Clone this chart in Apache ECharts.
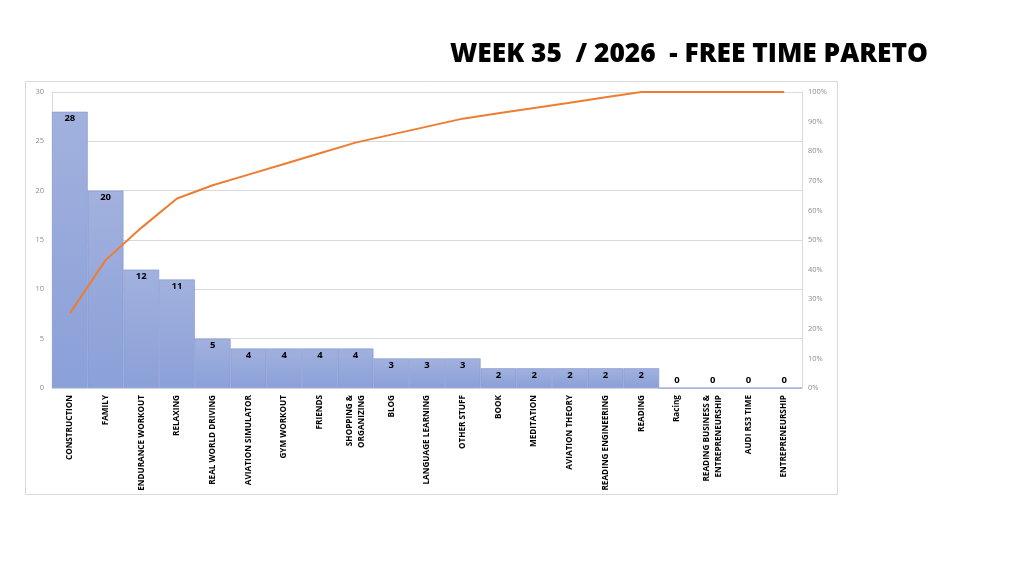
<!DOCTYPE html>
<html>
<head>
<meta charset="utf-8">
<title>Free time pareto</title>
<script src="https://cdn.jsdelivr.net/npm/echarts@6/dist/echarts.min.js"></script>
<style>
  html, body { margin: 0; padding: 0; background: #fff; }
  #main { width: 1023px; height: 572px; }
</style>
</head>
<body>
<div id="main"></div>
<script>
// week data, sorted high to low
var categories = [
    'CONSTRUCTION', 'FAMILY', 'ENDURANCE WORKOUT', 'RELAXING', 'REAL WORLD DRIVING',
    'AVIATION SIMULATOR', 'GYM WORKOUT', 'FRIENDS', 'SHOPPING &\nORGANIZING', 'BLOG',
    'LANGUAGE LEARNING', 'OTHER STUFF', 'BOOK', 'MEDITATION', 'AVIATION THEORY',
    'READING ENGINEERING', 'READING', 'Racing', 'READING BUSINESS &\nENTREPRENEURSHIP', 'AUDI RS3 TIME',
    'ENTREPRENEURSHIP'
];
var hours = [28, 20, 12, 11, 5, 4, 4, 4, 4, 3, 3, 3, 2, 2, 2, 2, 2, 0, 0, 0, 0];
// cumulative share (%)
var cumulative = [25.2, 43.2, 54.1, 64.0, 68.5, 72.1, 75.7, 79.3, 82.9, 85.6, 88.3, 91.0, 92.8, 94.6, 96.4, 98.2, 100, 100, 100, 100, 100];
var leftTicks = [0, 30, 5];     // min, max, step
var rightTicks = [0, 100, 10];

var myChart = echarts.init(document.getElementById('main'));

var barData = [];
for (var i = 0; i < hours.length; i++) {
    barData.push({
        value: hours[i],
        label: { position: hours[i] > 0 ? 'insideTop' : 'top', distance: 2 }
    });
}

var option = {
    animation: false,
    title: {
        text: 'WEEK 35  / 2026  - FREE TIME PARETO',
        right: 90,
        top: 37,
        textStyle: { fontFamily: 'Open Sans', fontWeight: 800, fontSize: 26.3, color: '#000' }
    },
    graphic: [{
        type: 'rect',
        shape: { x: 25.5, y: 81.5, width: 812, height: 413 },
        style: { fill: 'none', stroke: '#d9d9d9', lineWidth: 1 },
        z: -1
    }],
    grid: { left: 52, right: 221, top: 92, bottom: 184 },
    xAxis: {
        type: 'category',
        data: categories,
        axisLine: { lineStyle: { color: '#d9d9d9' } },
        axisTick: { show: false },
        axisLabel: {
            interval: 0,
            rotate: 90,
            margin: 7,
            fontFamily: 'Open Sans',
            fontWeight: 'bold',
            fontSize: 8.2,
            lineHeight: 11.5,
            color: '#000'
        }
    },
    yAxis: [{
        type: 'value',
        min: leftTicks[0],
        max: leftTicks[1],
        interval: leftTicks[2],
        axisLine: { show: true, lineStyle: { color: '#d9d9d9' } },
        axisTick: { show: false },
        axisLabel: { margin: 8, fontFamily: 'Open Sans', fontSize: 7.5, color: '#8c8c8c' },
        splitLine: { lineStyle: { color: '#d9d9d9' } }
    }, {
        type: 'value',
        min: rightTicks[0],
        max: rightTicks[1],
        interval: rightTicks[2],
        axisLine: { show: true, lineStyle: { color: '#d9d9d9' } },
        axisTick: { show: false },
        axisLabel: { margin: 6, formatter: '{value}%', fontFamily: 'Open Sans', fontSize: 7.5, color: '#8c8c8c' },
        splitLine: { show: false }
    }],
    series: [{
        name: 'Hours',
        type: 'bar',
        data: barData,
        barWidth: '100%',
        barCategoryGap: '0%',
        itemStyle: {
            color: new echarts.graphic.LinearGradient(0, 0, 0, 1, [
                { offset: 0, color: '#a2b1de' },
                { offset: 1, color: '#8aa0d8' }
            ]),
            borderColor: '#7f96d2',
            borderWidth: 0.6
        },
        label: {
            show: true,
            fontFamily: 'Open Sans',
            fontWeight: 'bold',
            fontSize: 9.5,
            color: '#000'
        }
    }, {
        name: 'Cumulative',
        type: 'line',
        yAxisIndex: 1,
        data: cumulative,
        showSymbol: false,
        symbol: 'none',
        lineStyle: { color: '#ed7d31', width: 2 },
        z: 5
    }]
};
myChart.setOption(option);
</script>
</body>
</html>
